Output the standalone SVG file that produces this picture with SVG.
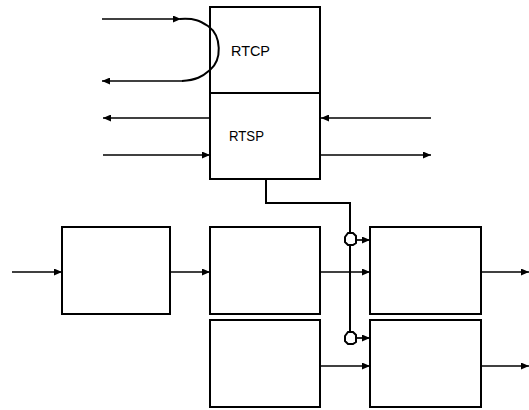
<svg xmlns="http://www.w3.org/2000/svg" width="529" height="410" viewBox="0 0 529 410">
<style>
.box{fill:#fff;stroke:#000;stroke-width:2}
.ln{fill:none;stroke:#000;stroke-width:2}
.ar{fill:none;stroke:#000;stroke-width:1.7;marker-end:url(#ah)}
.t{font-family:"Liberation Sans",Arial,sans-serif;font-size:15.5px;fill:#000}
</style>
<defs>
<marker id="ah" viewBox="0 0 10 10" refX="10" refY="5" markerWidth="8" markerHeight="7" markerUnits="userSpaceOnUse" orient="auto" preserveAspectRatio="none">
<path d="M0,0 L10,5 L0,10 z" fill="#000"/>
</marker>
</defs>
<rect width="529" height="410" fill="#fff"/>
<g id="rtcp"><rect class="box" x="210" y="7" width="110" height="86"/><text class="t" x="231" y="56" textLength="39" lengthAdjust="spacingAndGlyphs">RTCP</text></g>
<g id="rtsp"><rect class="box" x="210" y="93" width="110" height="86"/><text class="t" x="229" y="141" textLength="35" lengthAdjust="spacingAndGlyphs">RTSP</text></g>
<g id="a"><rect class="box" x="62" y="227" width="108" height="87"/></g>
<g id="b"><rect class="box" x="210" y="227" width="110" height="87"/></g>
<g id="c"><rect class="box" x="370" y="227" width="111" height="87"/></g>
<g id="d"><rect class="box" x="210" y="320" width="110" height="87"/></g>
<g id="e"><rect class="box" x="370" y="320" width="111" height="87"/></g>
<g id="connectors">
<path class="ar" d="M102,19 H181"/>
<path class="ln" d="M180,19 C195,18 200,21 208,26 C222,36 222,60 210,70 C202,77 196,80 182,81"/>
<path class="ar" d="M183,81 H102"/>
<path class="ar" d="M210,118 H103"/>
<path class="ar" d="M431,118 H321"/>
<path class="ar" d="M103,155 H210"/>
<path class="ar" d="M320,155 H431"/>
<path class="ln" d="M266,179 V203 H350 V233"/>
<path class="ln" d="M350,245 V332"/>
<path class="ln" d="M348,233 H353 L356,236 V243 L353,245 H348 L345,242 V237 Z"/>
<path class="ln" d="M348,332 H353 L356,335 V342 L353,344 H348 L345,341 V336 Z"/>
<path class="ar" d="M356,240 H370"/>
<path class="ar" d="M356,338 H370"/>
<path class="ar" d="M12,272 H62"/>
<path class="ar" d="M170,272 H210"/>
<path class="ar" d="M320,272 H370"/>
<path class="ar" d="M481,272 H529"/>
<path class="ar" d="M320,366 H370"/>
<path class="ar" d="M481,366 H529"/>
</g>
</svg>
